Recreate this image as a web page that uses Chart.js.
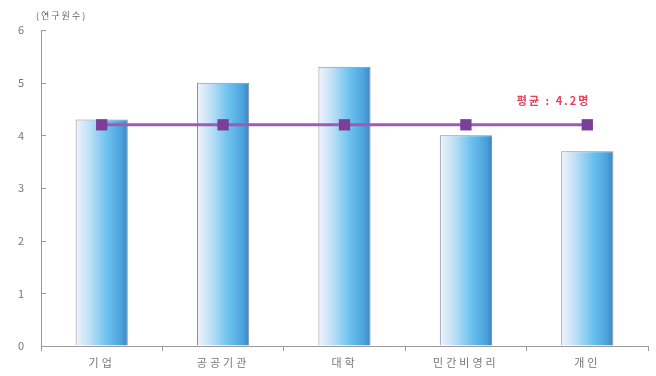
<!DOCTYPE html>
<html>
<head>
<meta charset="utf-8">
<script src="https://cdn.jsdelivr.net/npm/chart.js@4/dist/chart.umd.min.js"></script>
<style>
html,body{margin:0;padding:0;background:#fff;}
#wrap{width:656px;height:376px;position:relative;}
</style>
</head>
<body>
<div id="wrap"><canvas id="c" width="656" height="376"></canvas></div>
<script>
const categories = ['기업', '공공기관', '대학', '민간비영리', '개인'];
const barValues = [4.3, 5.0, 5.3, 4.0, 3.7];
const avgValues = [4.2, 4.2, 4.2, 4.2, 4.2];
const yTicks = [0, 1, 2, 3, 4, 5, 6];
const yTitle = '(연구원수)';
const avgLabel = '평균 : 4.2명';

const FONT = '"Noto Sans CJK KR", "Noto Sans", sans-serif';

function barGradient(ctx) {
  const chart = ctx.chart;
  const xs = chart.scales.x;
  if (!chart.chartArea || !xs) return '#6ec3ef';
  const el = ctx.element;
  let cx, w;
  if (el && el.width) { cx = el.x; w = el.width; }
  else {
    cx = xs.getPixelForValue(ctx.dataIndex);
    w = (chart.chartArea.right - chart.chartArea.left) / categories.length * 0.43;
  }
  const g = chart.ctx.createLinearGradient(cx - w / 2, 0, cx + w / 2, 0);
  g.addColorStop(0, '#f2f2fc');
  g.addColorStop(0.25, '#c2e2f6');
  g.addColorStop(0.6, '#6cc2ee');
  g.addColorStop(0.88, '#4ba2dc');
  g.addColorStop(1, '#3a86c4');
  return g;
}

const extras = {
  id: 'extras',
  beforeDraw(chart) {
    chart.ctx.letterSpacing = '3px';
  },
  afterDraw(chart) {
    const c = chart.ctx;
    const y = chart.scales.y, x = chart.scales.x;
    const area = chart.chartArea;
    c.save();
    c.letterSpacing = '0px';
    // inner y tick marks
    c.strokeStyle = '#9a9a9a';
    c.lineWidth = 1;
    yTicks.forEach(v => {
      const py = Math.round(y.getPixelForValue(v)) + 0.5;
      c.beginPath();
      c.moveTo(area.left, py);
      c.lineTo(area.left + 5, py);
      c.stroke();
    });
    // axis title
    c.fillStyle = '#666';
    c.font = '9px ' + FONT;
    c.letterSpacing = '2px';
    c.textAlign = 'left';
    c.textBaseline = 'middle';
    c.fillText(yTitle, area.left - 5, 16);
    // average label
    c.fillStyle = '#e8405e';
    c.font = 'bold 11px ' + FONT;
    c.letterSpacing = '2px';
    c.textAlign = 'right';
    c.fillText(avgLabel, x.getPixelForValue(categories.length - 1) + 3, y.getPixelForValue(avgValues[avgValues.length - 1]) - 24);
    c.restore();
  }
};

new Chart(document.getElementById('c'), {
  type: 'bar',
  data: {
    labels: categories,
    datasets: [
      {
        type: 'line',
        data: avgValues,
        borderColor: '#9d5bb3',
        borderWidth: 3,
        backgroundColor: '#7b3f98',
        pointBackgroundColor: '#7b3f98',
        pointBorderColor: '#7b3f98',
        pointStyle: 'rect',
        pointRadius: 8,
        pointBorderWidth: 0,
        tension: 0,
        order: 0
      },
      {
        type: 'bar',
        data: barValues,
        backgroundColor: barGradient,
        borderColor: '#8a8f98',
        borderWidth: 1,
        borderSkipped: 'bottom',
        categoryPercentage: 1,
        barPercentage: 0.43,
        order: 1
      }
    ]
  },
  options: {
    responsive: false,
    animation: false,
    devicePixelRatio: 1,
    layout: { padding: { top: 30, right: 6, left: 0, bottom: 0 } },
    plugins: { legend: { display: false }, tooltip: { enabled: false } },
    scales: {
      x: {
        offset: true,
        grid: { offset: true, drawOnChartArea: false, tickLength: 5, color: '#9a9a9a' },
        border: { color: '#9a9a9a', width: 1 },
        ticks: { color: '#777', font: { size: 11, family: FONT }, padding: 5 },
        afterFit(s) { s.height = 30; }
      },
      y: {
        min: 0, max: 6,
        afterBuildTicks(s) { s.ticks = yTicks.map(v => ({ value: v })); },
        grid: { drawOnChartArea: false, tickLength: 0 },
        border: { color: '#9a9a9a', width: 1 },
        ticks: { color: '#777', font: { size: 11, family: FONT }, padding: 14 },
        afterFit(s) { s.width = 41; }
      }
    }
  },
  plugins: [extras]
});
</script>
</body>
</html>
